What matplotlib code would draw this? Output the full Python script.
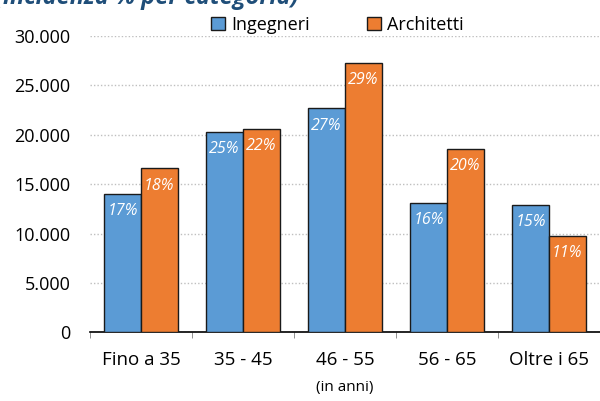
import matplotlib.pyplot as plt
import numpy as np

categorie = ["Fino a 35", "35 - 45", "46 - 55", "56 - 65", "Oltre i 65"]
ingegneri = [14000, 20300, 22700, 13100, 12900]
architetti = [16600, 20600, 27300, 18600, 9800]
perc_ingegneri = ["17%", "25%", "27%", "16%", "15%"]
perc_architetti = ["18%", "22%", "29%", "20%", "11%"]
yticks = [0, 5000, 10000, 15000, 20000, 25000, 30000]
ytick_labels = ["0", "5.000", "10.000", "15.000", "20.000", "25.000", "30.000"]

plt.rcParams['font.family'] = ['Open Sans', 'DejaVu Sans']

fig = plt.figure(figsize=(6, 4.01), dpi=100)
ax = fig.add_axes([0.15, 0.171, 0.85, 0.739])

x = np.arange(len(categorie))
w = 0.36
b1 = ax.bar(x - w / 2, ingegneri, w, color='#5B9BD5', edgecolor='#1a1a1a', linewidth=1.0,
            label='Ingegneri', zorder=3)
b2 = ax.bar(x + w / 2, architetti, w, color='#ED7D31', edgecolor='#1a1a1a', linewidth=1.0,
            label='Architetti', zorder=3)

for barre, testi in [(b1, perc_ingegneri), (b2, perc_architetti)]:
    for r, t in zip(barre, testi):
        ax.annotate(t, (r.get_x() + r.get_width() / 2, r.get_height()),
                    xytext=(0, -12.5), textcoords='offset points', ha='center', va='center',
                    color='white', fontsize=11.5, style='italic', zorder=4)

ax.set_xlim(-0.5, 4.5)
ax.set_ylim(0, 30000)
ax.set_yticks(yticks)
ax.set_yticklabels(ytick_labels, fontsize=13)
ax.tick_params(axis='y', length=0, pad=14)
ax.yaxis.grid(True, color='#BFBFBF', linestyle=(0, (1, 1.5)), linewidth=1.0, zorder=0)

ax.set_xticks(x)
ax.set_xticklabels(categorie, fontsize=13.5)
ax.set_xticks(np.arange(-0.5, 5, 1), minor=True)
ax.tick_params(axis='x', which='major', length=0, pad=13.5)
ax.tick_params(axis='x', which='minor', length=4.5, color='#7f7f7f', direction='out')
ax.set_xlabel("(in anni)", fontsize=11, labelpad=8)

for s in ['left', 'right', 'top']:
    ax.spines[s].set_visible(False)
ax.spines['bottom'].set_color('black')
ax.spines['bottom'].set_linewidth(1.2)

ax.legend(loc='center', bbox_to_anchor=(0.485, 1.037), ncol=2, frameon=False, fontsize=13,
          handlelength=0.75, handleheight=0.75, columnspacing=3.2, handletextpad=0.35,
          borderpad=0)

# titolo tagliato in alto, come nell'originale
fig.text(-0.008, 1 - 3.5 / 401, "(incidenza % per categoria)", ha='left', va='baseline',
         fontsize=17, color='#1F4E79', style='italic', weight='bold')

fig.savefig('out.png', dpi=100)
